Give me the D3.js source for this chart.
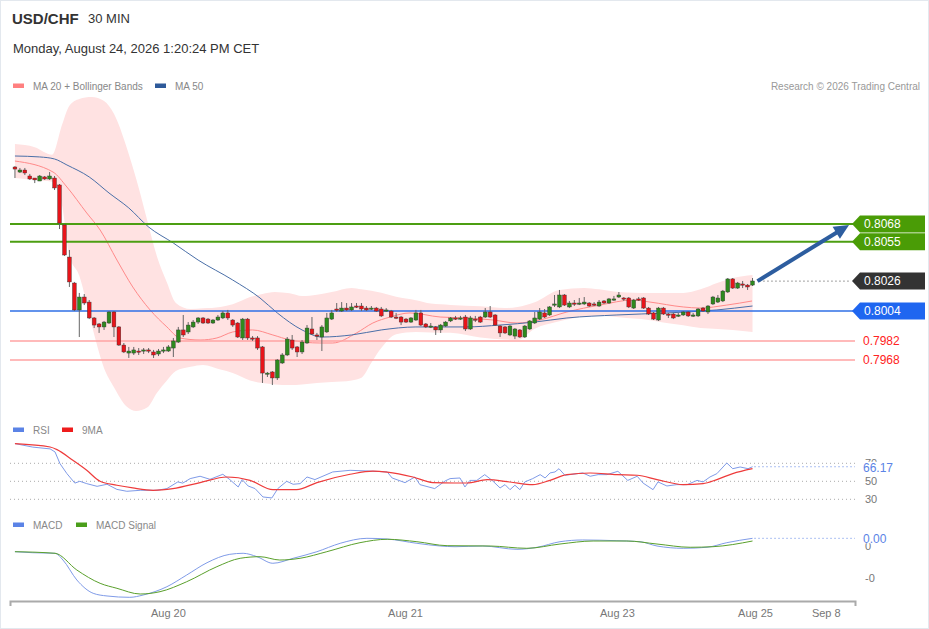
<!DOCTYPE html>
<html>
<head>
<meta charset="utf-8">
<script src="https://cdn.jsdelivr.net/npm/d3@7"></script>
<style>
  body { margin: 0; background: #fff; }
  svg { display: block; font-family: "Liberation Sans", Arial, sans-serif; }
</style>
</head>
<body>
<svg id="chart" width="929" height="629"></svg>
<script>
// ---- candles (30 min bars, index 0..149) ----
var opens = [0.81099,0.81062,0.81077,0.81033,0.81018,0.80996,0.81026,0.81011,0.81018,0.80967,
  0.80673,0.80437,0.80246,0.80048,0.80143,0.80106,0.79989,0.79945,0.79923,0.79952,
  0.80033,0.79923,0.79790,0.79731,0.79731,0.79746,0.79746,0.79754,0.79739,0.79724,
  0.79746,0.79746,0.79768,0.79812,0.79901,0.79886,0.79923,0.79959,0.79989,0.79981,
  0.79952,0.79974,0.79989,0.80026,0.79974,0.79952,0.79842,0.79981,0.79842,0.79842,
  0.79776,0.79577,0.79592,0.79548,0.79658,0.79717,0.79827,0.79776,0.79739,0.79805,
  0.79908,0.79864,0.79849,0.79886,0.79981,0.80055,0.80040,0.80062,0.80048,0.80077,
  0.80077,0.80062,0.80055,0.80062,0.80055,0.80040,0.80040,0.79996,0.79996,0.79981,
  0.79959,0.79974,0.80026,0.79945,0.79923,0.79923,0.79901,0.79930,0.79967,0.79989,
  0.79981,0.79996,0.79908,0.79981,0.79996,0.79996,0.80033,0.80011,0.79930,0.79923,
  0.79864,0.79856,0.79901,0.79849,0.79908,0.79952,0.79981,0.80026,0.80011,0.80084,
  0.80070,0.80158,0.80070,0.80099,0.80092,0.80092,0.80099,0.80092,0.80077,0.80114,
  0.80099,0.80121,0.80143,0.80136,0.80136,0.80062,0.80129,0.80136,0.80062,0.80026,
  0.79974,0.80062,0.80018,0.80018,0.80004,0.80011,0.80033,0.80004,0.80004,0.80062,
  0.80033,0.80092,0.80106,0.80114,0.80180,0.80276,0.80209,0.80239,0.80231,0.80231];
var highs = [0.81106,0.81092,0.81092,0.81048,0.81018,0.81040,0.81033,0.81062,0.81033,0.80974,
  0.80680,0.80489,0.80254,0.80173,0.80165,0.80121,0.79996,0.79952,0.79967,0.80040,
  0.80040,0.79930,0.79805,0.79776,0.79776,0.79768,0.79768,0.79768,0.79754,0.79761,
  0.79776,0.79790,0.79842,0.79923,0.80011,0.79959,0.79974,0.79996,0.79996,0.79989,
  0.79981,0.80011,0.80040,0.80048,0.79981,0.79959,0.79989,0.79989,0.79856,0.79856,
  0.79783,0.79592,0.79599,0.79687,0.79731,0.79849,0.79864,0.79783,0.79827,0.79937,
  0.79996,0.79879,0.79937,0.80026,0.80048,0.80099,0.80106,0.80099,0.80099,0.80099,
  0.80099,0.80077,0.80077,0.80070,0.80070,0.80062,0.80048,0.80026,0.80004,0.79989,
  0.79996,0.80048,0.80048,0.79952,0.79952,0.79930,0.79945,0.79967,0.79996,0.80004,
  0.80004,0.80011,0.80004,0.80004,0.80004,0.80062,0.80077,0.80018,0.79937,0.79930,
  0.79937,0.79915,0.79908,0.79937,0.79974,0.80033,0.80062,0.80055,0.80077,0.80158,
  0.80195,0.80165,0.80114,0.80121,0.80136,0.80143,0.80106,0.80106,0.80121,0.80121,
  0.80136,0.80151,0.80180,0.80143,0.80143,0.80129,0.80143,0.80143,0.80070,0.80033,
  0.80070,0.80070,0.80026,0.80026,0.80026,0.80040,0.80040,0.80026,0.80062,0.80070,
  0.80084,0.80151,0.80158,0.80195,0.80283,0.80283,0.80254,0.80261,0.80239,0.80283];
var lows = [0.81018,0.81055,0.81040,0.81004,0.80981,0.80996,0.81004,0.81004,0.80930,0.80643,
  0.80445,0.80217,0.80040,0.79849,0.80084,0.79981,0.79915,0.79879,0.79901,0.79945,
  0.79849,0.79783,0.79731,0.79695,0.79717,0.79717,0.79724,0.79731,0.79695,0.79709,
  0.79731,0.79739,0.79702,0.79805,0.79849,0.79871,0.79915,0.79945,0.79945,0.79945,
  0.79945,0.79967,0.79981,0.79974,0.79923,0.79842,0.79827,0.79827,0.79820,0.79754,
  0.79511,0.79555,0.79496,0.79533,0.79651,0.79709,0.79754,0.79702,0.79724,0.79798,
  0.79864,0.79827,0.79746,0.79879,0.79974,0.80033,0.80033,0.80040,0.80040,0.80062,
  0.80040,0.80040,0.80048,0.80033,0.79996,0.80033,0.79989,0.79981,0.79937,0.79952,
  0.79952,0.79967,0.79930,0.79915,0.79915,0.79864,0.79879,0.79923,0.79959,0.79974,
  0.79974,0.79893,0.79901,0.79959,0.79952,0.79989,0.79989,0.79930,0.79849,0.79871,
  0.79856,0.79834,0.79842,0.79842,0.79901,0.79945,0.79974,0.79989,0.80004,0.80070,
  0.80062,0.80077,0.80062,0.80077,0.80084,0.80084,0.80070,0.80077,0.80070,0.80092,
  0.80092,0.80114,0.80136,0.80114,0.80062,0.80055,0.80114,0.80055,0.80011,0.79974,
  0.79967,0.80011,0.79989,0.79981,0.79996,0.80004,0.79996,0.79996,0.79996,0.80033,
  0.80018,0.80084,0.80099,0.80106,0.80173,0.80202,0.80202,0.80209,0.80195,0.80224];
var closes = [0.81084,0.81077,0.81055,0.81011,0.81004,0.81033,0.81011,0.81033,0.80945,0.80687,
  0.80452,0.80254,0.80048,0.80143,0.80099,0.79989,0.79937,0.79923,0.79959,0.80033,
  0.79923,0.79790,0.79739,0.79746,0.79754,0.79739,0.79754,0.79746,0.79717,0.79746,
  0.79754,0.79776,0.79820,0.79901,0.79864,0.79937,0.79959,0.79989,0.79952,0.79952,
  0.79974,0.79996,0.80026,0.79989,0.79937,0.79849,0.79981,0.79842,0.79834,0.79768,
  0.79584,0.79584,0.79548,0.79680,0.79717,0.79834,0.79768,0.79739,0.79812,0.79915,
  0.79871,0.79856,0.79923,0.79989,0.80026,0.80048,0.80062,0.80048,0.80070,0.80070,
  0.80055,0.80048,0.80062,0.80040,0.80004,0.80048,0.79996,0.79989,0.79959,0.79959,
  0.79989,0.80026,0.79937,0.79923,0.79930,0.79901,0.79937,0.79959,0.79989,0.79981,
  0.79989,0.79908,0.79989,0.79974,0.79959,0.80033,0.79996,0.79937,0.79879,0.79879,
  0.79930,0.79908,0.79849,0.79930,0.79967,0.79989,0.80033,0.79996,0.80070,0.80092,
  0.80158,0.80084,0.80099,0.80092,0.80099,0.80106,0.80077,0.80084,0.80106,0.80099,
  0.80129,0.80129,0.80158,0.80129,0.80070,0.80121,0.80121,0.80062,0.80018,0.79981,
  0.80062,0.80018,0.80011,0.79989,0.80011,0.80033,0.80004,0.80011,0.80055,0.80040,
  0.80077,0.80143,0.80136,0.80187,0.80276,0.80209,0.80246,0.80231,0.80217,0.80261];

// ---- overlays: [bar index, value] ----
var ma50 = [[0,0.81180],[5,0.81173],[8,0.81158],[10.5,0.81114],[15,0.81026],[19,0.80908],[23,0.80798],
  [27,0.80658],[32,0.80540],[37,0.80415],[44,0.80268],[49.5,0.80136],[53,0.80026],[58,0.79901],
  [62,0.79849],[68,0.79864],[74,0.79901],[81,0.79923],[91,0.79923],[98,0.79937],[105,0.79959],
  [111.5,0.79989],[121.6,0.80011],[131.7,0.80026],[141.8,0.80048],[149,0.80077]];
var ma20 = [[0,0.81143],[7.7,0.81062],[10.5,0.80952],[14.5,0.80761],[17.2,0.80636],[20.6,0.80415],
  [23.8,0.80217],[27.3,0.80048],[30.7,0.79923],[33.3,0.79842],[37.4,0.79827],[40.8,0.79842],
  [44,0.79886],[48,0.79901],[52.1,0.79864],[55.6,0.79827],[61.6,0.79805],[64.2,0.79805],
  [69,0.79879],[72.3,0.79952],[75.8,0.79996],[79.8,0.80026],[85.9,0.79996],[91.3,0.79989],
  [96.6,0.79974],[101.4,0.79952],[106,0.79974],[111.5,0.80033],[118.2,0.80084],[124.8,0.80121],
  [128.3,0.80106],[135,0.80070],[138.4,0.80062],[143.8,0.80084],[148.9,0.80114]];
var bbIdx = [0,4,7.5,9.5,11,13,15.5,18,20,22.5,24.5,26.7,28.7,30.7,32.5,35.5,38,41.5,44,47.5,
  50,52.5,55.5,58,61,64,68,70,72,74,77,81,84,88,94,99,101.5,105,110,115,118,122,125,128,132,
  135,138.5,142,145,149];
var bbUpper = [0.81268,0.81245,0.81190,0.81408,0.81550,0.81600,0.81614,0.81585,0.81490,0.81250,
  0.81010,0.80710,0.80440,0.80250,0.80100,0.80055,0.80060,0.80070,0.80090,0.80143,
  0.80165,0.80180,0.80170,0.80150,0.80160,0.80180,0.80210,0.80200,0.80190,0.80175,
  0.80145,0.80120,0.80095,0.80085,0.80075,0.80062,0.80070,0.80105,0.80195,0.80210,
  0.80200,0.80180,0.80175,0.80173,0.80173,0.80173,0.80200,0.80248,0.80283,0.80305];
var bbLower = [0.81018,0.81003,0.80990,0.80820,0.80450,0.80300,0.79937,0.79620,0.79480,0.79340,
  0.79305,0.79330,0.79440,0.79530,0.79600,0.79630,0.79643,0.79610,0.79585,0.79530,
  0.79510,0.79500,0.79496,0.79500,0.79510,0.79518,0.79530,0.79550,0.79660,0.79768,
  0.79870,0.79886,0.79883,0.79880,0.79845,0.79830,0.79827,0.79910,0.79965,0.80000,
  0.80005,0.79995,0.79985,0.79975,0.79950,0.79935,0.79915,0.79908,0.79901,0.79886];

// ---- levels ----
var resistances = [0.8068, 0.8055];
var pivot = 0.8004;
var supports = [0.7982, 0.7968];
var lastPrice = 0.8026;
var arrowFrom = [150, 0.8026];
var arrowTo = [168.5, 0.80673];

// ---- RSI pane ----
var rsiLine = [[0,91.9],[3.6,88],[7.1,86],[8.1,82.6],[9.1,69.6],[10.5,58.5],[12.1,48],[13.1,50],
  [14.5,47.4],[16.6,44.4],[18.6,46.7],[20.6,41],[22.6,38.9],[25.3,40],[28.7,40],[30.7,41.9],
  [32.9,49.3],[33.9,48],[35.4,53],[37.4,55.6],[39.4,52.2],[42,57.8],[43.4,51.9],[45.1,43.7],
  [45.9,51.9],[47.1,44.8],[48.5,41.9],[50.1,32.6],[51.9,31.5],[53.1,41.9],[54.9,50],[56.2,46.7],
  [57.6,47.4],[59,54.8],[60.6,51.9],[64.2,60.4],[67.7,62.2],[71.1,61.5],[75.2,60.4],[76.2,53.7],
  [78.8,48.5],[80.8,54.8],[81.8,46.3],[84.8,41.9],[86.9,50.4],[87.9,53],[89.9,53.7],[90.9,43.7],
  [91.9,51],[93.3,51],[94.9,57.4],[96.4,51],[98,42.6],[99,46.3],[100,40.7],[101,45.6],[102,40.7],
  [103,49.3],[104.6,53],[106.1,57.4],[107.1,53.7],[108.1,59.3],[109.1,60.4],[109.9,64],[111.1,56.7],
  [114.7,59.3],[116.2,55.6],[117.8,57.4],[119.6,57.4],[121.8,61.1],[123.8,51],[125.7,55.6],
  [126.9,48],[128.9,40.7],[129.9,49.3],[131.7,44.8],[133.7,46.3],[135.8,46.3],[137.8,51],[139,49.3],
  [140.4,54.8],[141.8,58.5],[143.8,70.4],[145,64],[146.5,65.9],[148.1,64],[149,66.17]];
var rsiMa = [[0,91.9],[7.1,88.1],[8.5,85.2],[11.7,73.3],[14.5,62.2],[17.2,50],[20.6,45.6],[23.8,42.6],
  [27.9,40],[31.9,41.9],[37.4,48.6],[42.8,54.8],[47.5,51.1],[52.1,40.8],[56.9,40.8],[61,48.6],
  [67.7,57.8],[72.3,61.4],[75.2,60.3],[80.4,54.8],[84.4,48.6],[88.9,48.1],[91.3,48.1],[95.4,51.9],
  [100,49.2],[104.6,46.3],[108.1,51.1],[111.5,57.4],[116.2,59.2],[121.6,57.4],[125.7,56.7],
  [129.7,51.9],[135,46.3],[139,47.4],[141.8,51.9],[145,58.6],[149,64.1]];
var rsiLevels = [70, 50, 30];

// ---- MACD pane ----
var macdLine = [[0,-0.000089],[3.6,-0.000105],[8.1,-0.000114],[9.7,-0.000219],[12.5,-0.000531],
  [15.8,-0.000739],[18.6,-0.000781],[23.2,-0.000802],[25.9,-0.000766],[30.7,-0.000636],
  [34.7,-0.000453],[38.8,-0.000261],[43.4,-0.000130],[46.1,-0.000114],[48.9,-0.000167],
  [52.1,-0.000270],[56.2,-0.000192],[61,-0.000089],[65.7,0.000042],[71.1,0.000120],[75.2,0.000109],
  [81.2,0.000042],[85.9,0],[88.9,-0.000011],[94.5,0],[101.4,-0.000052],[105.5,-0.000020],
  [110.1,0.000067],[114.7,0.000094],[121.6,0.000083],[126.3,0.000067],[129.7,0],[135,-0.000036],
  [139.8,-0.000020],[143.8,0.000052],[149,0.000120]];
var macdSignal = [[0,-0.000089],[8.1,-0.000114],[12.5,-0.000375],[17.2,-0.000583],[20.6,-0.000661],
  [25.3,-0.000750],[29.3,-0.000714],[34.7,-0.000558],[40.8,-0.000323],[45.5,-0.000192],
  [49.5,-0.000167],[53.5,-0.000219],[57.6,-0.000192],[63,-0.000089],[69.7,0.000052],[75.2,0.000105],
  [81.2,0.000067],[87.3,0.000005],[96,0],[103.4,-0.000036],[110.1,0.000031],[116.8,0.000078],
  [123.6,0.000078],[129.7,0.000031],[136.4,-0.000020],[141,-0.000011],[149,0.000078]];
var macdTicks = [0, -0.0005];
var macdTickLabels = ["0", "-0"];

// ---- time axis ----
var tickIdx = [30.9, 78.8, 121.6, 149.5, 163.8];
var tickLabels = ["Aug 20", "Aug 21", "Aug 23", "Aug 25", "Sep 8"];

var W = 929, H = 629;
var svg = d3.select("#chart");
var fmt = d3.formatLocale({ decimal: ".", thousands: ",", grouping: [3], currency: ["$", ""], minus: "-" });

svg.append("rect").attr("x", 0.5).attr("y", 0.5).attr("width", W - 1).attr("height", H - 1)
  .attr("fill", "#fff").attr("stroke", "#e3e8ee");

var x = d3.scaleLinear().domain([-1, 169.7]).range([10, 855]);
var yP = d3.scaleLinear().domain([0.7968, 0.8068]).range([360, 224]);
var yR = d3.scaleLinear().domain([30, 70]).range([499.3, 463.3]);
var yM = d3.scaleLinear().domain([-0.0005, 0]).range([578, 546]);
var xL = x.range()[0], xR = x.range()[1];

// header
svg.append("text").attr("x", 12).attr("y", 24).attr("font-size", 15).attr("font-weight", "bold")
  .attr("fill", "#333").text("USD/CHF");
svg.append("text").attr("x", 88).attr("y", 23).attr("font-size", 13).attr("fill", "#333").text("30 MIN");
svg.append("text").attr("x", 13).attr("y", 53).attr("font-size", 13).attr("fill", "#333")
  .text("Monday, August 24, 2026 1:20:24 PM CET");
svg.append("text").attr("x", 920).attr("y", 89.5).attr("font-size", 10).attr("fill", "#999")
  .attr("text-anchor", "end").text("Research \u00a9 2026 Trading Central");

function legend(items, y) {
  items.forEach(function (d) {
    svg.append("rect").attr("x", d.x).attr("y", y - 2.5).attr("width", 11).attr("height", 4.5).attr("fill", d.color);
    svg.append("text").attr("x", d.x + 20).attr("y", y + 3.5).attr("font-size", 10).attr("fill", "#888").text(d.label);
  });
}
legend([{ x: 13, color: "#ff8080", label: "MA 20 + Bollinger Bands" },
        { x: 155, color: "#2e5a9a", label: "MA 50" }], 86);
legend([{ x: 13, color: "#5b83e6", label: "RSI" },
        { x: 62, color: "#ee1c1c", label: "9MA" }], 430);
legend([{ x: 13, color: "#5b83e6", label: "MACD" },
        { x: 76, color: "#4a9e1a", label: "MACD Signal" }], 525);

// bollinger band + moving averages
var bb = bbIdx.map(function (d, i) { return { i: d, u: bbUpper[i], l: bbLower[i] }; });
svg.append("path").datum(bb)
  .attr("d", d3.area().x(function (d) { return x(d.i); }).y0(function (d) { return yP(d.l); })
    .y1(function (d) { return yP(d.u); }).curve(d3.curveMonotoneX))
  .attr("fill", "#ffe2e2");

var pline = d3.line().x(function (d) { return x(d[0]); }).y(function (d) { return yP(d[1]); }).curve(d3.curveMonotoneX);
svg.append("path").datum(ma20).attr("d", pline).attr("fill", "none").attr("stroke", "#ff8a8a").attr("stroke-width", 1);
svg.append("path").datum(ma50).attr("d", pline).attr("fill", "none").attr("stroke", "#4a6fa8").attr("stroke-width", 1);

// levels
resistances.forEach(function (v) {
  svg.append("line").attr("x1", xL).attr("x2", xR).attr("y1", yP(v)).attr("y2", yP(v))
    .attr("stroke", "#4c9e12").attr("stroke-width", 2);
});
svg.append("line").attr("x1", xL).attr("x2", xR).attr("y1", yP(pivot)).attr("y2", yP(pivot))
  .attr("stroke", "#2f6fe6").attr("stroke-width", 1.5);
supports.forEach(function (v) {
  svg.append("line").attr("x1", xL).attr("x2", xR).attr("y1", yP(v)).attr("y2", yP(v))
    .attr("stroke", "#ffa3a3").attr("stroke-width", 1.5);
});

// candles
var bars = d3.range(opens.length).map(function (i) {
  return { i: i, o: opens[i], h: highs[i], l: lows[i], c: closes[i] };
});
var cg = svg.append("g");
cg.selectAll("line").data(bars).enter().append("line")
  .attr("x1", function (d) { return x(d.i); }).attr("x2", function (d) { return x(d.i); })
  .attr("y1", function (d) { return yP(d.h); }).attr("y2", function (d) { return yP(d.l); })
  .attr("stroke", "#666").attr("stroke-width", 1);
cg.selectAll("rect").data(bars).enter().append("rect")
  .attr("x", function (d) { return x(d.i) - 1.9; })
  .attr("width", 3.8)
  .attr("y", function (d) { return yP(Math.max(d.o, d.c)); })
  .attr("height", function (d) { return Math.max(1.2, Math.abs(yP(d.o) - yP(d.c))); })
  .attr("fill", function (d) { return d.c >= d.o ? "#2e8a1e" : "#e8141a"; })
  .attr("stroke", "#333").attr("stroke-width", 0.4);

// last price dotted line
svg.append("line").attr("x1", x(arrowFrom[0]) + 2).attr("x2", xR - 4)
  .attr("y1", yP(lastPrice)).attr("y2", yP(lastPrice))
  .attr("stroke", "#444").attr("stroke-dasharray", "1,3");

// projection arrow
(function () {
  var x0 = x(arrowFrom[0]), y0 = yP(arrowFrom[1]), x1 = x(arrowTo[0]), y1 = yP(arrowTo[1]);
  var a = Math.atan2(y1 - y0, x1 - x0), hl = 15, hw = 7;
  var bx = x1 - hl * Math.cos(a), by = y1 - hl * Math.sin(a);
  svg.append("line").attr("x1", x0).attr("y1", y0).attr("x2", bx + 2 * Math.cos(a)).attr("y2", by + 2 * Math.sin(a))
    .attr("stroke", "#2d5d9f").attr("stroke-width", 4);
  var pts = [[x1, y1], [bx + hw * Math.sin(a), by - hw * Math.cos(a)], [bx - hw * Math.sin(a), by + hw * Math.cos(a)]];
  svg.append("polygon").attr("points", pts.map(function (p) { return p.join(","); }).join(" ")).attr("fill", "#2d5d9f");
})();

// right-side price tags
function tag(v, color) {
  var y = yP(v);
  var pts = [[xR - 3, y], [xR + 5, y - 8.5], [925, y - 8.5], [925, y + 8.5], [xR + 5, y + 8.5]];
  svg.append("polygon").attr("points", pts.map(function (p) { return p.join(","); }).join(" ")).attr("fill", color);
  svg.append("text").attr("x", 864).attr("y", y + 4.3).attr("font-size", 12).attr("fill", "#fff").text(fmt.format(".4f")(v));
}
resistances.forEach(function (v) { tag(v, "#4a9c06"); });
tag(lastPrice, "#333333");
tag(pivot, "#1f66f0");
supports.forEach(function (v) {
  svg.append("text").attr("x", 863).attr("y", yP(v) + 4.3).attr("font-size", 12).attr("fill", "#f22")
    .text(fmt.format(".4f")(v));
});

// RSI pane
rsiLevels.forEach(function (v) {
  svg.append("line").attr("x1", xL).attr("x2", xR).attr("y1", yR(v)).attr("y2", yR(v))
    .attr("stroke", "#aaa").attr("stroke-dasharray", "1,3");
  svg.append("text").attr("x", 865).attr("y", yR(v) + 4).attr("font-size", 11).attr("fill", "#777").text(v);
});
var rl = d3.line().x(function (d) { return x(d[0]); }).y(function (d) { return yR(d[1]); });
svg.append("path").datum(rsiLine).attr("d", rl).attr("fill", "none").attr("stroke", "#7f9be8").attr("stroke-width", 1);
svg.append("path").datum(rsiMa).attr("d", rl.curve(d3.curveMonotoneX)).attr("fill", "none")
  .attr("stroke", "#ee3b3b").attr("stroke-width", 1.2);
var lastRsi = rsiLine[rsiLine.length - 1];
svg.append("line").attr("x1", x(lastRsi[0]) + 2).attr("x2", xR).attr("y1", yR(lastRsi[1])).attr("y2", yR(lastRsi[1]))
  .attr("stroke", "#5b83e6").attr("stroke-dasharray", "1,3");
svg.append("rect").attr("x", 861).attr("y", yR(lastRsi[1]) - 5).attr("width", 34).attr("height", 11).attr("fill", "#fff");
svg.append("text").attr("x", 863).attr("y", yR(lastRsi[1]) + 5).attr("font-size", 12).attr("fill", "#5b83e6")
  .text(fmt.format(".2f")(lastRsi[1]));

// MACD pane
macdTicks.forEach(function (v, i) {
  svg.append("text").attr("x", 865).attr("y", yM(v) + 4).attr("font-size", 11).attr("fill", "#777")
    .text(macdTickLabels[i]);
});
var ml = d3.line().x(function (d) { return x(d[0]); }).y(function (d) { return yM(d[1]); }).curve(d3.curveMonotoneX);
svg.append("path").datum(macdLine).attr("d", ml).attr("fill", "none").attr("stroke", "#7f9be8").attr("stroke-width", 1);
svg.append("path").datum(macdSignal).attr("d", ml).attr("fill", "none").attr("stroke", "#5aa02c").attr("stroke-width", 1);
var lastMacd = macdLine[macdLine.length - 1];
svg.append("line").attr("x1", x(lastMacd[0]) + 2).attr("x2", xR).attr("y1", yM(lastMacd[1])).attr("y2", yM(lastMacd[1]))
  .attr("stroke", "#5b83e6").attr("stroke-dasharray", "1,3");
svg.append("rect").attr("x", 861).attr("y", yM(lastMacd[1]) - 5).attr("width", 30).attr("height", 10).attr("fill", "#fff");
svg.append("text").attr("x", 863).attr("y", yM(lastMacd[1]) + 5).attr("font-size", 12).attr("fill", "#5b83e6")
  .text(fmt.format(".2f")(lastMacd[1]));

// time axis
var ax = svg.append("g").attr("transform", "translate(0,601)")
  .call(d3.axisBottom(x).tickValues(tickIdx).tickFormat(function (d, i) { return tickLabels[i]; })
    .tickSizeInner(0).tickSizeOuter(5).tickPadding(8));
ax.select(".domain").attr("stroke", "#aaa").attr("stroke-width", 2);
ax.selectAll("text").attr("fill", "#777").attr("font-size", 11).attr("font-family", "Liberation Sans, Arial, sans-serif");
</script>
</body>
</html>
